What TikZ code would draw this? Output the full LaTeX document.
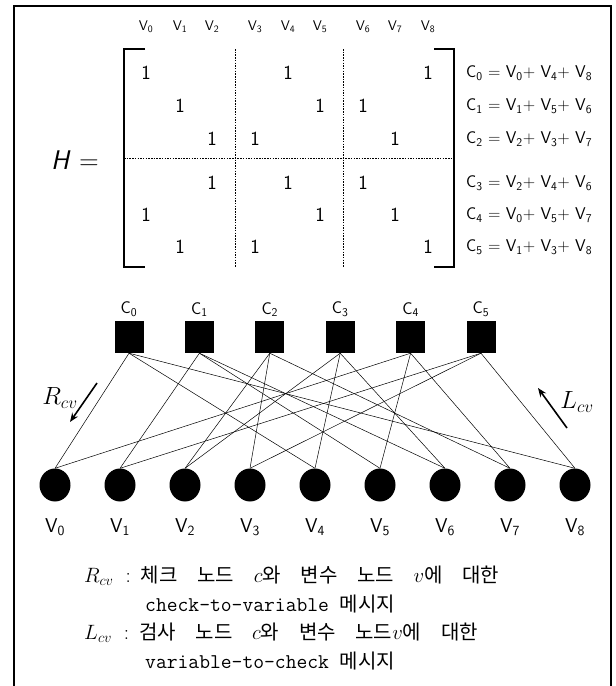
\documentclass[tikz,border=0pt]{standalone}
\usepackage{fontspec}
\newfontfamily\kr[WordSpace=4.4]{Noto Sans CJK KR}
\newcommand{\krt}[1]{{\kr\fontsize{20}{24}\selectfont #1}}
\usetikzlibrary{positioning, arrows.meta, shapes.geometric}

\begin{document}
\begin{tikzpicture}[
        x=1pt, y=-1pt,
        vtop/.style={font=\sffamily\fontsize{14}{16}\selectfont, inner sep=0pt},
        one/.style={font=\sffamily\fontsize{20}{22}\selectfont, inner sep=0pt},
        eqn/.style={font=\sffamily\fontsize{17}{19}\selectfont, inner sep=0pt},
        brk/.style={line width=1.4pt},
        sep/.style={line width=0.5pt, dash pattern=on 1.5pt off 1.2pt},
        chk/.style={fill=black, minimum width=29pt, minimum height=32pt, inner sep=0pt},
        var/.style={ellipse, fill=black, minimum width=31pt, minimum height=33pt, inner sep=0pt},
        clbl/.style={font=\sffamily\fontsize{17}{19}\selectfont, inner sep=0pt},
        vlbl/.style={font=\sffamily\fontsize{20}{22}\selectfont, inner sep=0pt},
        edge/.style={line width=0.5pt},
        msg/.style={line width=1.6pt, -{Stealth[length=9pt, width=7pt]}},
        mlbl/.style={font=\fontsize{23}{26}\selectfont, inner sep=0pt},
        note/.style={font=\fontsize{21}{24}\selectfont, inner sep=0pt, anchor=west}
    ]
    \useasboundingbox (0,0) rectangle (616,686);

    % frame, open at the bottom
    \draw[line width=1.3pt] (14,686) -- (14,6) -- (611,6) -- (611,686);

    % column heads
    \foreach \k/\x in {0/146, 1/180, 2/212, 3/255, 4/288, 5/320, 6/363, 7/395, 8/428}
    {
        \node[vtop] (h\k) at (\x, 27) {V\textsubscript{\k}};
    }

    % row heights
    \foreach \r/\y in {0/73, 1/106, 2/139, 3/183, 4/215, 5/247}
        \coordinate (r\r) at (0, \y);

    % entries of H
    \foreach \r/\cols in {0/{0,4,8}, 1/{1,5,6}, 2/{2,3,7}, 3/{2,4,6}, 4/{0,5,7}, 5/{1,3,8}}
        \foreach \k in \cols
            \node[one] (e\r\k) at (h\k |- r\r) {1};

    % brackets
    \draw[brk] (145, 49) -- (124, 49) -- (124, 267) -- (145, 267);
    \draw[brk] (434, 49) -- (454, 49) -- (454, 267) -- (434, 267);

    % block separators
    \draw[sep] (235, 49) -- (235, 267);
    \draw[sep] (343, 49) -- (343, 267);
    \draw[sep] (124, 158) -- (454, 158);

    \node[font=\sffamily\fontsize{27}{30}\selectfont, inner sep=0pt] (hdef) at (75, 160) {\textit{H} =};

    % parity equations
    \foreach \r/\y/\va/\vb/\vc in {0/73/0/4/8, 1/106/1/5/6, 2/139/2/3/7, 3/183/2/4/6, 4/215/0/5/7, 5/247/1/3/8}
    {
        \node[eqn, anchor=west] (q\r) at (466, \y)
            {C\textsubscript{\r} = V\textsubscript{\va}+ V\textsubscript{\vb}+ V\textsubscript{\vc}};
    }

    % Tanner graph
    \foreach \i in {0,...,5}
    {
        \node[chk] (c\i) at ({129+70.4*\i}, 337) {};
        \node[clbl, above=4pt of c\i] (cl\i) {C\textsubscript{\i}};
    }
    \foreach \j in {0,...,8}
    {
        \node[var] (v\j) at ({55+65*\j}, 485) {};
        \node[vlbl] (vl\j) at ({55+65*\j}, 527) {V\textsubscript{\j}};
    }
    \foreach \i/\vs in {0/{0,4,8}, 1/{1,5,6}, 2/{2,3,7}, 3/{2,4,6}, 4/{0,5,7}, 5/{1,3,8}}
        \foreach \j in \vs
            \draw[edge] (c\i.south) -- (v\j.north);

    % message directions
    \coordinate (ra) at (97, 383);
    \coordinate (rb) at (70, 422);
    \draw[msg] (ra) -- (rb);
    \node[mlbl] (rlbl) at (60, 398) {$R_{cv}$};
    \coordinate (la) at (567, 428);
    \coordinate (lb) at (538, 388);
    \draw[msg] (la) -- (lb);
    \node[mlbl] (llbl) at (577, 402) {$L_{cv}$};

    % legend
    \node[note] (n1) at (84, 576) {$R_{cv}$\hspace{12pt}:\hspace{10pt}\krt{체크 노드 }$c$\krt{와 변수 노드 }$v$\krt{에 대한}};
    \node[note] (n2) at (145, 604) {\ttfamily check-to-variable \krt{메시지}};
    \node[note] (n3) at (84, 633) {$L_{cv}$\hspace{12pt}:\hspace{10pt}\krt{검사 노드 }$c$\krt{와 변수 노드}$v$\krt{에 대한}};
    \node[note] (n4) at (145, 661) {\ttfamily variable-to-check \krt{메시지}};

\end{tikzpicture}
\end{document}
